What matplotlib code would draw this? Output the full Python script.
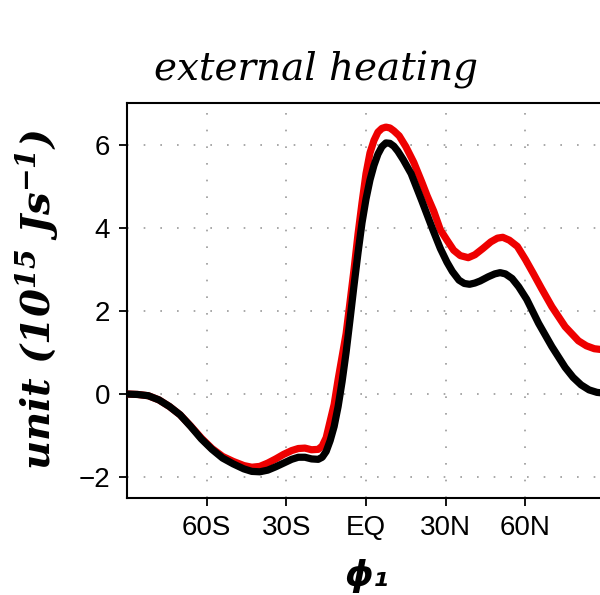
import matplotlib
matplotlib.use("Agg")
import matplotlib.pyplot as plt

# ---- data ----
lat_black = [-90, -86, -82, -78, -74, -70, -66, -62, -58, -54, -50, -46, -43, -40, -37, -34,
             -31, -28, -25.5, -23, -20.5, -18, -16.5, -15, -13.5, -12, -10.5, -9, -7.5, -6,
             -4.5, -3, -1.5, 0, 1.5, 3, 4.5, 6, 7.5, 9, 10.5, 12, 14, 17, 21, 25, 28, 30.5,
             32.5, 35, 37, 39, 41, 43, 46, 48.5, 50.5, 52.5, 55, 57.5, 60.5, 65, 70, 75,
             78, 81, 84, 87, 90]
val_black = [0.00, -0.01, -0.04, -0.14, -0.30, -0.50, -0.78, -1.08, -1.33, -1.54, -1.68, -1.80,
             -1.86, -1.87, -1.83, -1.75, -1.66, -1.57, -1.52, -1.52, -1.56, -1.57, -1.52,
             -1.38, -1.12, -0.78, -0.30, 0.30, 1.00, 1.80, 2.62, 3.40, 4.12, 4.69, 5.15,
             5.50, 5.77, 5.95, 6.04, 6.03, 5.96, 5.84, 5.64, 5.30, 4.65, 3.98, 3.50, 3.17,
             2.95, 2.74, 2.66, 2.64, 2.67, 2.72, 2.82, 2.89, 2.92, 2.89, 2.78, 2.58, 2.28,
             1.70, 1.14, 0.64, 0.40, 0.22, 0.10, 0.04, 0.02]

lat_red = [-90, -86, -82, -78, -74, -70, -66, -62, -58, -54, -50, -46, -43, -40, -37, -34,
           -31, -28, -25.5, -23, -20.5, -18, -16.5, -15, -13.5, -12, -10.5, -9, -7.5, -6,
           -4.5, -3, -1.5, 0, 1.5, 3, 4.5, 6, 7.5, 9, 10.5, 12.5, 15, 18, 21, 23, 25.5, 28,
           30.5, 33, 35.5, 38.5, 41, 44, 47, 49.5, 51.5, 54, 57, 60, 63, 66, 70, 75, 80,
           83, 86, 90]
val_red = [0.00, -0.01, -0.04, -0.14, -0.30, -0.50, -0.77, -1.06, -1.31, -1.50, -1.62, -1.72,
           -1.76, -1.74, -1.66, -1.56, -1.45, -1.36, -1.31, -1.30, -1.34, -1.33, -1.25,
           -1.05, -0.65, -0.25, 0.35, 0.90, 1.45, 2.22, 3.00, 3.85, 4.60, 5.30, 5.80, 6.10,
           6.30, 6.39, 6.42, 6.40, 6.33, 6.21, 5.95, 5.57, 5.10, 4.77, 4.40, 3.95, 3.70,
           3.46, 3.33, 3.28, 3.35, 3.50, 3.66, 3.75, 3.77, 3.70, 3.55, 3.24, 2.90, 2.55,
           2.10, 1.62, 1.28, 1.16, 1.09, 1.06]

xtick_pos = [-60, -30, 0, 30, 60]
xtick_lab = ["60S", "30S", "EQ", "30N", "60N"]
ytick_pos = [-2, 0, 2, 4, 6]
ytick_lab = ["\u22122", "0", "2", "4", "6"]

plt.rcParams["mathtext.fontset"] = "custom"
plt.rcParams["mathtext.rm"] = "DejaVu Serif:italic:bold"
plt.rcParams["mathtext.it"] = "DejaVu Serif:italic:bold"

W, H = 600, 595
fig = plt.figure(figsize=(W / 100, H / 100), dpi=100)
ax = fig.add_axes([127 / W, (H - 498) / H, (605 - 127) / W, (498 - 103) / H])

ax.plot(lat_red, val_red, color="#ee0000", lw=5.2, solid_capstyle="round",
        solid_joinstyle="round", zorder=3)
ax.plot(lat_black, val_black, color="black", lw=5.2, solid_capstyle="round",
        solid_joinstyle="round", zorder=4)

ax.set_xlim(-90, 90)
ax.set_ylim(-2.5, 7)
ax.set_xticks(xtick_pos)
ax.set_xticklabels(xtick_lab, family="Liberation Sans", fontsize=20)
ax.set_yticks(ytick_pos)
ax.set_yticklabels(ytick_lab, family="Liberation Sans", fontsize=20)
ax.tick_params(direction="out", length=6, width=1.3, pad=6)

ax.grid(True, color="#999999", linestyle=(0, (1, 9)), linewidth=1.2)
for s in ax.spines.values():
    s.set_linewidth(1.5)

fig.text(316 / W, 1 - 70 / H, "external heating", ha="center", va="center",
         family="DejaVu Serif", style="italic", fontsize=28)
fig.text(37 / W, 1 - 300 / H, r"unit (10$^{15}$ Js$^{-1}$)", ha="center", va="center",
         rotation=90, family="DejaVu Serif", style="italic", weight="bold", fontsize=29)
fig.text(367 / W, 1 - 576 / H, "\u03d5\u2081", ha="center", va="center",
         family="DejaVu Sans", style="italic", weight="bold", fontsize=26)

fig.savefig("out.png", dpi=100)
